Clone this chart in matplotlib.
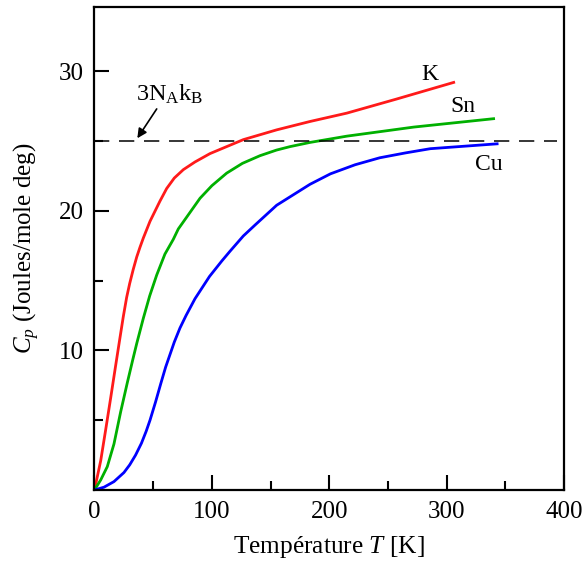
import numpy as np
import matplotlib
matplotlib.use("Agg")
import matplotlib.pyplot as plt

# values
T_K = [0, 5.3, 9.5, 13.8, 18, 21.7, 24.5, 27.4, 30, 33, 36, 38.8, 41.6, 47.3,
       55.8, 61.5, 68, 75.7, 85.6, 98.4, 126.8, 155.2, 183.6, 215, 257, 306]
Cp_K = [0, 2.1, 4.3, 6.6, 8.9, 10.9, 12.4, 13.8, 14.8, 15.8, 16.7, 17.4, 18.05,
        19.25, 20.7, 21.6, 22.35, 22.95, 23.5, 24.1, 25.1, 25.8, 26.4, 27.0,
        28.0, 29.2]

T_Sn = [0, 5.3, 10.9, 16.6, 22.3, 28, 32.8, 36, 41.6, 47, 53, 60, 67.1, 71.4,
        89.9, 100, 112.6, 126, 141, 155, 166.6, 183.6, 215, 272, 340]
Cp_Sn = [0, 0.72, 1.67, 3.3, 5.6, 7.7, 9.4, 10.5, 12.3, 13.9, 15.4, 16.9, 17.95,
         18.7, 20.9, 21.8, 22.7, 23.4, 23.95, 24.35, 24.6, 24.9, 25.35, 26.0,
         26.6]

T_Cu = [0, 8.1, 16.6, 25.1, 30, 35, 40, 44, 47.3, 52, 56.4, 60.6, 64.3, 68,
        72.8, 78, 85.6, 98, 108.4, 115.4, 126.8, 137, 155.2, 183.6, 201, 222,
        243, 265, 286, 343]
Cp_Cu = [0, 0.2, 0.6, 1.25, 1.8, 2.5, 3.35, 4.2, 5.0, 6.3, 7.6, 8.8, 9.7, 10.6,
         11.6, 12.5, 13.7, 15.3, 16.4, 17.1, 18.2, 19.0, 20.4, 21.9, 22.65, 23.3,
         23.8, 24.15, 24.45, 24.8]

dulong_petit = 25.0

plt.rcParams['font.family'] = ['Liberation Serif', 'DejaVu Serif']
plt.rcParams['mathtext.fontset'] = 'custom'
plt.rcParams['mathtext.rm'] = 'Liberation Serif'
plt.rcParams['mathtext.it'] = 'Liberation Serif:italic'
plt.rcParams['lines.scale_dashes'] = False

fig = plt.figure(figsize=(5.84, 5.72), dpi=100)
ax = fig.add_axes([0.1618, 0.1434, 0.8040, 0.8443])

ax.plot(T_K, Cp_K, color='#ff1a1a', lw=2.0, solid_joinstyle='round')
ax.plot(T_Sn, Cp_Sn, color='#00b000', lw=2.0, solid_joinstyle='round')
ax.plot(T_Cu, Cp_Cu, color='#0000ff', lw=2.0, solid_joinstyle='round')
ax.axhline(dulong_petit, xmax=0.985, color='black', lw=1.1, dashes=(11, 7))

ax.text(286, 29.8, 'K', fontsize=17, ha='center', va='center')
ax.text(314, 27.5, 'Sn', fontsize=17, ha='center', va='center')
ax.text(336, 23.3, 'Cu', fontsize=17, ha='center', va='center')

ax.annotate('', xy=(36.5, 25.2), xytext=(53, 27.3),
            arrowprops=dict(arrowstyle='-|>', color='black', lw=1.2,
                            mutation_scale=14, shrinkA=0, shrinkB=0))
ax.text(35.4, 27.9, r'3N$_\mathrm{A}$k$_\mathrm{B}$', fontsize=17.5,
        ha='left', va='baseline')

ax.set_xlim(0, 400)
ax.set_ylim(0, 34.6)
ax.set_xticks([0, 100, 200, 300, 400])
ax.set_xticks([50, 150, 250, 350], minor=True)
ax.set_yticks([10, 20, 30])
ax.set_yticks([5, 15, 25], minor=True)
ax.tick_params(which='both', direction='in', width=1.5, labelsize=18)
ax.tick_params(which='major', length=11, pad=8)
ax.tick_params(which='minor', length=6.5)
for sp in ax.spines.values():
    sp.set_linewidth(1.6)

ax.set_xlabel(r'Température $T$ [K]', fontsize=18.3, labelpad=8)
ax.set_ylabel(r'$C_p$ (Joules/mole deg)', fontsize=18, labelpad=12)

fig.savefig('out.png', dpi=100)
